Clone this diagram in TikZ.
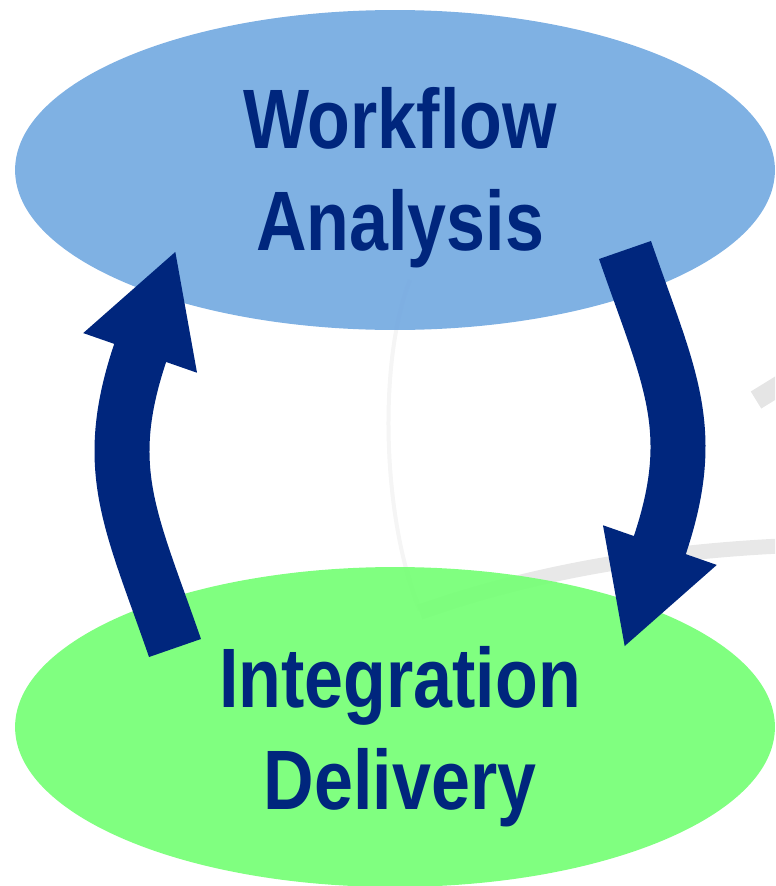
\documentclass[tikz,border=0pt]{standalone}
\usepackage{fontspec}
\setmainfont[FakeStretch=0.83]{Liberation Sans}
\usetikzlibrary{shapes.geometric,arrows.meta}

\definecolor{analysisblue}{RGB}{116,170,225}
\definecolor{deliverygreen}{RGB}{117,255,117}
\definecolor{navy}{RGB}{0,38,125}

\tikzset{
  phase/.style={ellipse, minimum width=15.2cm, minimum height=6.4cm, inner sep=0pt,
    fill opacity=0.92},
  phasetext/.style={text=navy, align=center, inner sep=0pt,
    font=\fontsize{48}{58}\selectfont\bfseries},
  cyclearrow/.style={draw=navy, line width=1.1cm,
    -{Triangle[length=2.18cm, width=2.24cm]}},
  faint/.style={draw=black!4, line width=0.08cm}
}

\begin{document}
\begin{tikzpicture}[x=0.02cm, y=-0.02cm]
  \useasboundingbox (0,0) rectangle (775,886);
  \clip (0,0) rectangle (775,886);

  % Faint background shapes
  \draw [faint] (410,280) .. controls (378,360) and (382,520) .. (420,610);
  \draw [draw=black!9, line width=0.3cm] (420,612) .. controls (540,570) and (660,552) .. (780,546);
  \draw [draw=black!10, line width=0.4cm] (756,400) -- (782,384);

  % Phase ellipses
  \node [phase, fill=analysisblue] (wa) at (395,170) {};
  \node [phase, fill=deliverygreen] (id) at (395,727) {};

  % Phase labels
  \node [phasetext] (wa-label) at (400,178) {Workflow\\Analysis};
  \node [phasetext] (id-label) at (400,737) {Integration\\Delivery};

  % Arrow ends
  \path (wa.center) ++(230,80) coordinate (wa-out);
  \path (id.center) ++(229,-79) coordinate (id-in);
  \path (id.center) ++(-220,-79) coordinate (id-out);
  \path (wa.center) ++(-219,80) coordinate (wa-in);

  % Drawing arrow from analysis down to delivery
  \draw [cyclearrow] (wa-out) .. controls (670,380) and (700,430) .. (id-in);

  % Drawing arrow from delivery back up to analysis
  \draw [cyclearrow] (id-out) .. controls (130,518) and (100,468) .. (wa-in);
\end{tikzpicture}
\end{document}
